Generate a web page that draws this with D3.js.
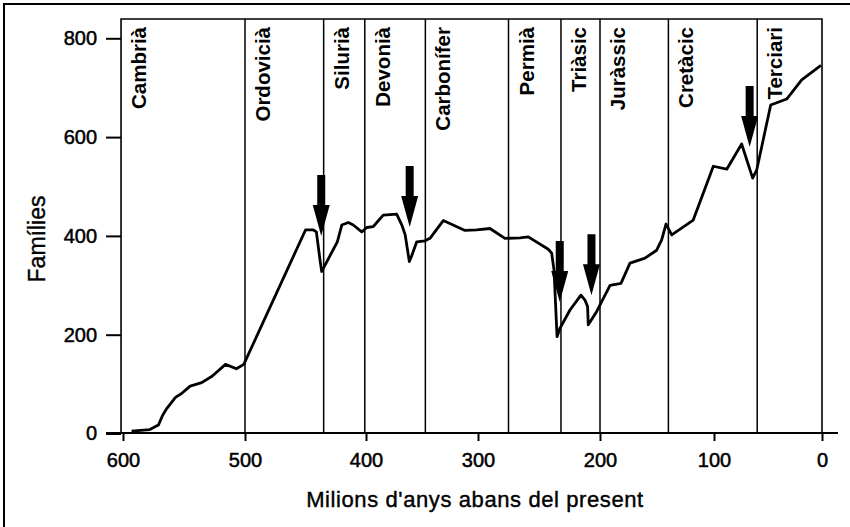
<!DOCTYPE html>
<html>
<head>
<meta charset="utf-8">
<script src="https://cdn.jsdelivr.net/npm/d3@7.9.0/dist/d3.min.js"></script>
<style>
  html, body { margin: 0; padding: 0; background: #fff; }
  svg { display: block; font-family: "Liberation Sans", Arial, Helvetica, sans-serif; }
</style>
</head>
<body>
<script>
// Diversitat de famílies marines al llarg del temps (milions d'anys)
const ages = [593, 578, 571, 567.5, 564, 557, 552, 545, 535.5, 527, 516, 507, 501,
  450, 443.5, 441, 438, 436.6, 434.5, 423.7, 420, 414.6, 410.5, 403.5, 399.4, 393.5,
  384.6, 372.6, 368, 365, 361.3, 359, 354.7, 347.3, 342.9, 331, 311.6, 301.2, 290.2,
  277.9, 265.6, 258.8, 242.4, 239.6, 237.7, 235.2, 232.8, 224.6, 215.6, 212.3, 210.2,
  209.6, 202.7, 191.2, 181.6, 173.7, 160.5, 150.3, 145.9, 142.1, 137.1, 118.2, 100.6,
  88.2, 74.4, 64.2, 60.5, 47.5, 32.7, 18.8, 1];
const families = [5, 8, 17, 37, 51, 73, 81, 96, 103, 116, 140, 131, 140,
  412, 412, 408, 351, 328, 338, 388, 422, 427, 422, 408, 417, 419,
  442, 444, 422, 402, 348, 361, 388, 390, 395, 431, 411, 412, 415,
  395, 396, 398, 373, 365, 331, 196, 213, 250, 280, 270, 257,
  220, 247, 300, 304, 345, 355, 371, 392, 424, 402, 432, 541,
  535, 586, 517, 533, 665, 677, 716, 745];

const periodNames = ["Cambrià", "Ordovicià", "Silurià", "Devonià", "Carbonífer",
  "Permià", "Triàsic", "Juràssic", "Cretàcic", "Terciari"];
const periodStarts = [601.6, 500, 435, 401, 347, 275, 232, 200, 140, 60];
const presentAge = 0;

// fletxes d'extinció massiva: edat i nombre de famílies a la punta
const arrowAges = [437, 361, 233, 207, 67];
const arrowTips = [400, 418, 266, 280, 580];

const xTicks = [600, 500, 400, 300, 200, 100, 0];
const yTicks = [0, 200, 400, 600, 800];

const width = 850, height = 527;
const plotTop = 19, baseY = 433;

const svg = d3.select("body").append("svg")
  .attr("width", width).attr("height", height);

svg.append("rect").attr("width", width).attr("height", height).attr("fill", "#fff");

// marc exterior (només esquerra i dalt)
svg.append("path")
  .attr("d", `M4,${height} L4,4 L${width},4`)
  .attr("fill", "none").attr("stroke", "#000").attr("stroke-width", 2);

// escala x lleugerament irregular com a l'original
const x = d3.scaleLinear()
  .domain(xTicks)
  .range([123, 245, 366, 478, 600, 714, 822]);
const y = d3.scaleLinear().domain([0, 800]).range([433.5, 38.3]);

const plotLeft = x(periodStarts[0]);
const plotRight = x(presentAge);

// marc del gràfic
svg.append("path")
  .attr("d", `M${plotLeft},${baseY} L${plotLeft},${plotTop} L${plotRight},${plotTop} L${plotRight},${baseY}`)
  .attr("fill", "none").attr("stroke", "#000").attr("stroke-width", 1.6);

// línies dels períodes
svg.append("g").selectAll("line")
  .data(periodStarts.slice(1))
  .join("line")
  .attr("x1", d => x(d)).attr("x2", d => x(d))
  .attr("y1", plotTop).attr("y2", baseY)
  .attr("stroke", "#000").attr("stroke-width", 1.5);

// noms dels períodes
svg.append("g").selectAll("text")
  .data(periodNames)
  .join("text")
  .attr("transform", (d, i) => `translate(${x(periodStarts[i]) + 25},27) rotate(-90)`)
  .attr("text-anchor", "end")
  .style("font-size", "20.5px")
  .style("font-weight", "bold")
  .text(d => d);

// eix x
svg.append("line")
  .attr("x1", 106).attr("x2", 838)
  .attr("y1", baseY).attr("y2", baseY)
  .attr("stroke", "#000").attr("stroke-width", 2);

const xAxis = svg.append("g")
  .attr("transform", `translate(0,${baseY})`)
  .call(d3.axisBottom(x).tickValues(xTicks).tickSize(8).tickPadding(12).tickFormat(d3.format("d")));
xAxis.select(".domain").remove();
xAxis.selectAll("line").attr("stroke-width", 2);
xAxis.selectAll("text")
  .style("font-size", "20px")
  .style("font-family", "Liberation Sans, Arial, sans-serif")
  .attr("fill", "#000").attr("stroke", "#000").attr("stroke-width", 0.5);

// eix y
const yAxis = svg.append("g")
  .attr("transform", `translate(${plotLeft},0)`)
  .call(d3.axisLeft(y).tickValues(yTicks).tickSize(15).tickPadding(9));
yAxis.select(".domain").remove();
yAxis.selectAll("line").attr("stroke-width", 2);
yAxis.selectAll("text")
  .style("font-size", "20px")
  .style("font-family", "Liberation Sans, Arial, sans-serif")
  .attr("fill", "#000").attr("stroke", "#000").attr("stroke-width", 0.5);

// títols dels eixos
svg.append("text")
  .attr("x", 475).attr("y", 507)
  .attr("text-anchor", "middle")
  .style("font-size", "22px")
  .style("letter-spacing", "0.6px")
  .attr("stroke", "#000").attr("stroke-width", 0.4)
  .text("Milions d'anys abans del present");

svg.append("text")
  .attr("transform", "translate(45,239) rotate(-90)")
  .attr("text-anchor", "middle")
  .style("font-size", "23px")
  .attr("stroke", "#000").attr("stroke-width", 0.4)
  .text("Famílies");

// corba de diversitat
const line = d3.line()
  .x((d, i) => x(ages[i]))
  .y(d => y(d));

svg.append("path")
  .datum(families)
  .attr("d", line)
  .attr("fill", "none")
  .attr("stroke", "#000")
  .attr("stroke-width", 2.8)
  .attr("stroke-linejoin", "round");

// fletxes
const shaftW = 8, headW = 17, shaftL = 30, headL = 31;
svg.append("g").selectAll("path")
  .data(arrowAges)
  .join("path")
  .attr("d", (d, i) => {
    const cx = x(d), ty = y(arrowTips[i]);
    const hy = ty - headL, sy = hy - shaftL;
    return `M${cx - shaftW / 2},${sy} L${cx + shaftW / 2},${sy} L${cx + shaftW / 2},${hy}` +
      ` L${cx + headW / 2},${hy} L${cx},${ty} L${cx - headW / 2},${hy} L${cx - shaftW / 2},${hy} Z`;
  })
  .attr("fill", "#000");
</script>
</body>
</html>
